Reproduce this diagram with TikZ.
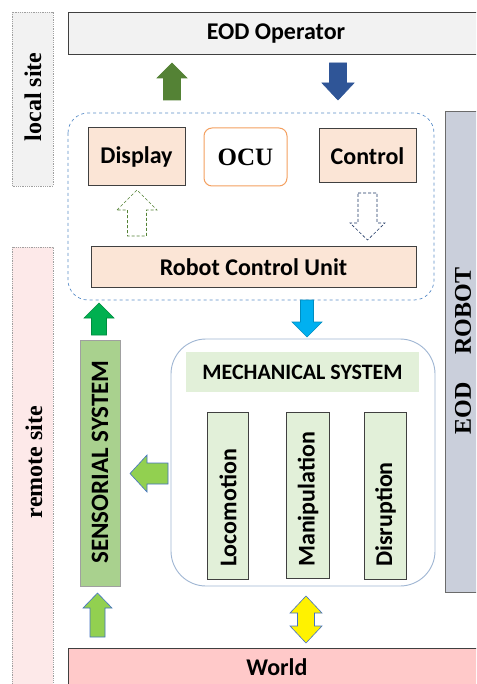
\documentclass[tikz,border=0pt]{standalone}
\usepackage{fontspec}
\setmainfont{Liberation Serif}
\newfontfamily\calfont{Carlito}
\usetikzlibrary{calc}
\definecolor{sitegray}{HTML}{F2F2F2}
\definecolor{sitepink}{HTML}{FDE9E9}
\definecolor{dotgray}{HTML}{A0A0A0}
\definecolor{darkline}{HTML}{404040}
\definecolor{peach}{HTML}{FBE5D6}
\definecolor{ocuorange}{HTML}{F4A060}
\definecolor{framblue}{HTML}{5B8EC9}
\definecolor{mechblue}{HTML}{9FB6D3}
\definecolor{robotgray}{HTML}{CACFDB}
\definecolor{robotline}{HTML}{6B6B6B}
\definecolor{sensgreen}{HTML}{A9D18E}
\definecolor{lightgreen}{HTML}{E2F0D9}
\definecolor{worldpink}{HTML}{FFC9C9}
\definecolor{olivegreen}{HTML}{548235}
\definecolor{navyblue}{HTML}{2F5597}
\definecolor{darknavy}{HTML}{1F3864}
\definecolor{cyanblue}{HTML}{00B0F0}
\definecolor{brightgreen}{HTML}{00B050}
\definecolor{limegreen}{HTML}{92D050}
\definecolor{arrowedge}{HTML}{4472C4}
\tikzset{
  sitebox/.style={draw=dotgray, densely dotted, line width=0.8pt},
  darkbox/.style={draw=darkline, line width=1pt},
  sanslbl/.style={font=\calfont\bfseries\fontsize{24}{28}\selectfont, inner sep=0pt},
  mechlbl/.style={font=\calfont\bfseries\fontsize{22}{26}\selectfont, inner sep=0pt},
  senslbl/.style={font=\calfont\bfseries\fontsize{25}{29}\selectfont, inner sep=0pt},
  seriflbl/.style={font=\bfseries\fontsize{24}{28}\selectfont, inner sep=0pt},
  blockarrow/.style={line width=0.6pt, line join=miter},
}
% up arrow: style, xc, ytip, yhead, ybottom, halfhead, halfshaft
\newcommand\upblock[7]{%
  \draw[blockarrow,#1] (#2-#6,#4) -- (#2,#3) -- (#2+#6,#4) -- (#2+#7,#4) -- (#2+#7,#5) -- (#2-#7,#5) -- (#2-#7,#4) -- cycle;}
% down arrow: style, xc, ytop, yhead, ytip, halfhead, halfshaft
\newcommand\downblock[7]{%
  \draw[blockarrow,#1] (#2-#7,#3) -- (#2+#7,#3) -- (#2+#7,#4) -- (#2+#6,#4) -- (#2,#5) -- (#2-#6,#4) -- (#2-#7,#4) -- cycle;}
\begin{document}
\begin{tikzpicture}[x=1pt,y=-1pt]
\useasboundingbox (0,0) rectangle (476,684);
\clip (0,0) rectangle (476,684);
\fill[white] (0,0) rectangle (476,684);

% site columns
\draw[sitebox, fill=sitegray] (12,12) rectangle (53,186);
\node[seriflbl, rotate=90] (localsite) at (33,97) {local site};
\draw[sitebox, fill=sitepink] (12,247) rectangle (53,690);
\node[seriflbl, rotate=90] (remotesite) at (34,462) {remote site};

% operator and world
\draw[darkbox, fill=sitegray] (68,13) rectangle (490,55);
\node[sanslbl] (operator) at (276,34) {EOD Operator};
\draw[darkbox, fill=worldpink] (68,648) rectangle (490,700);
\node[sanslbl] (world) at (277,667) {World};

% EOD robot
\draw[draw=robotline, line width=1pt, fill=robotgray] (445,112) rectangle (495,592);
\node[seriflbl, rotate=90] (robot) at (463,351) {EOD\hspace{28pt}ROBOT};

% OCU frame
\draw[framblue, dashed, line width=0.7pt, rounded corners=20pt] (68,113) rectangle (434,300);
\node[darkbox, fill=peach, minimum width=97pt, minimum height=58pt, inner sep=0pt] (display) at (136.5,157) {};
\node[sanslbl] (displaytxt) at (display.center) {Display};
\node[draw=ocuorange, line width=1pt, rounded corners=8pt, fill=white, minimum width=83pt, minimum height=58pt, inner sep=0pt] (ocu) at (245.5,157) {};
\node[seriflbl, font=\bfseries\fontsize{25}{29}\selectfont] (ocutxt) at (ocu.center) {OCU};
\node[darkbox, fill=peach, minimum width=97pt, minimum height=54pt, inner sep=0pt] (control) at (367.5,156) {};
\node[sanslbl] (controltxt) at (control.center) {Control};
\node[darkbox, fill=peach, minimum width=325pt, minimum height=40pt, inner sep=0pt] (rcu) at (253.5,267) {};
\node[sanslbl] (rcutxt) at (rcu.center) {Robot Control Unit};

% mechanical system
\draw[mechblue, line width=0.9pt, rounded corners=35pt] (171,339) rectangle (435,586);
\node[fill=lightgreen, minimum width=233pt, minimum height=40pt, inner sep=0pt] (mech) at (302.5,372) {};
\node[mechlbl] (mechtxt) at (mech.center) {MECHANICAL SYSTEM};
\node[darkbox, fill=lightgreen, minimum width=41pt, minimum height=167pt, inner sep=0pt] (loco) at (227.5,495.5) {};
\node[sanslbl, rotate=90, anchor=west] (locotxt) at (228,567) {Locomotion};
\node[darkbox, fill=lightgreen, minimum width=43pt, minimum height=166pt, inner sep=0pt] (mani) at (307.5,495) {};
\node[sanslbl, rotate=90, anchor=west] (manitxt) at (308,567) {Manipulation};
\node[darkbox, fill=lightgreen, minimum width=42pt, minimum height=167pt, inner sep=0pt] (disr) at (385,495.5) {};
\node[sanslbl, rotate=90, anchor=west] (disrtxt) at (385.5,567) {Disruption};

% sensorial system
\node[draw=dotgray, line width=0.8pt, fill=sensgreen, minimum width=40pt, minimum height=246pt, inner sep=0pt] (sens) at (100,463) {};
\node[senslbl, rotate=90] (senstxt) at (100,462) {SENSORIAL SYSTEM};

% block arrows
\upblock{draw=olivegreen, fill=olivegreen}{172}{63}{78}{100}{15}{8.5}
\downblock{draw=navyblue, fill=navyblue}{338}{63}{83}{100}{16}{8.5}
\upblock{draw=olivegreen, fill=white, densely dashed}{137}{190}{210}{236}{20}{9.5}
\downblock{draw=darknavy, fill=white, densely dashed}{367.5}{193}{223}{240}{17.5}{9.5}
\downblock{draw=cyanblue!80!black, fill=cyanblue}{307}{300}{322}{337}{15}{6.5}
\upblock{draw=brightgreen!80!black, fill=brightgreen}{99}{303}{318}{335}{15}{7.5}
\upblock{draw=arrowedge, fill=limegreen}{97.5}{593}{608}{637}{14.5}{7.5}
% left arrow
\draw[blockarrow, draw=arrowedge, fill=limegreen] (130,473.5) -- (147,455) -- (147,463) -- (168,463) -- (168,484) -- (147,484) -- (147,492) -- cycle;
% double arrow
\draw[blockarrow, draw=arrowedge, fill=yellow] (306,596) -- (322,613) -- (314.5,613) -- (314.5,626) -- (322,626) -- (306,643) -- (290,626) -- (297.5,626) -- (297.5,613) -- (290,613) -- cycle;
\end{tikzpicture}
\end{document}
